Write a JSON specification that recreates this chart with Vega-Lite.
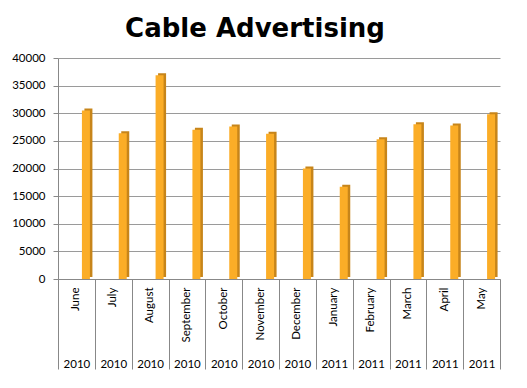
{
  "$schema": "https://vega.github.io/schema/vega-lite/v6.json",
  "width": 442,
  "height": 221,
  "padding": {"left": 11, "top": 16, "right": 28, "bottom": 10},
  "background": "white",
  "title": {
    "text": "Cable Advertising",
    "font": "DejaVu Sans",
    "fontSize": 26,
    "fontWeight": "bold",
    "color": "#000000",
    "anchor": "middle",
    "dx": -24,
    "offset": 10
  },
  "data": {
    "values": [
      {"period": "June 2010", "advertising": 30500},
      {"period": "July 2010", "advertising": 26400},
      {"period": "August 2010", "advertising": 36900},
      {"period": "September 2010", "advertising": 27000},
      {"period": "October 2010", "advertising": 27600},
      {"period": "November 2010", "advertising": 26300},
      {"period": "December 2010", "advertising": 20000},
      {"period": "January 2011", "advertising": 16700},
      {"period": "February 2011", "advertising": 25300},
      {"period": "March 2011", "advertising": 28000},
      {"period": "April 2011", "advertising": 27800},
      {"period": "May 2011", "advertising": 29800}
    ]
  },
  "config": {
    "view": {"stroke": null},
    "axis": {"labelFont": "Lato", "labelColor": "#000000"}
  },
  "encoding": {
    "x": {"field": "period", "type": "nominal", "sort": null, "scale": {"paddingInner": 0, "paddingOuter": 0}},
    "y": {"field": "advertising", "type": "quantitative", "scale": {"domain": [0, 40000]}}
  },
  "layer": [
    {
      "mark": {"type": "bar", "width": 8, "color": "#C7851A", "xOffset": 12, "yOffset": -2},
      "encoding": {
        "x": {
          "field": "period", "type": "nominal", "sort": null,
          "axis": {
            "title": null,
            "orient": "bottom",
            "labelAngle": -90,
            "labelAlign": "right",
            "labelBaseline": "middle",
            "labelFontSize": 11.5,
            "labelPadding": 8,
            "labelExpr": "split(datum.value, ' ')[0]",
            "ticks": false,
            "domainColor": "#888888"
          }
        },
        "y": {
          "field": "advertising", "type": "quantitative",
          "axis": {
            "title": null,
            "values": [0, 5000, 10000, 15000, 20000, 25000, 30000, 35000, 40000],
            "format": "d",
            "labelFontSize": 11.5,
            "labelPadding": 8,
            "tickSize": 5,
            "tickColor": "#888888",
            "domainColor": "#888888",
            "gridColor": "#9a9a9a",
            "grid": true
          }
        }
      }
    },
    {
      "mark": {"type": "bar", "width": 8, "color": "#FBAD27", "xOffset": 9.5},
      "encoding": {
        "x": {"field": "period", "type": "nominal", "sort": null, "axis": null},
        "y": {"field": "advertising", "type": "quantitative", "axis": null}
      }
    },
    {
      "mark": {"type": "bar", "opacity": 0},
      "encoding": {
        "x": {
          "field": "period", "type": "nominal", "sort": null,
          "axis": {
            "title": null,
            "orient": "bottom",
            "labelAngle": 0,
            "labelFontSize": 11.5,
            "labelPadding": -11,
            "labelExpr": "split(datum.value, ' ')[1]",
            "ticks": true,
            "tickBand": "extent",
            "tickSize": 90,
            "tickColor": "#888888",
            "domain": false
          }
        },
        "y": {"field": "advertising", "type": "quantitative", "axis": null}
      }
    }
  ],
  "resolve": {"axis": {"x": "independent", "y": "independent"}}
}
